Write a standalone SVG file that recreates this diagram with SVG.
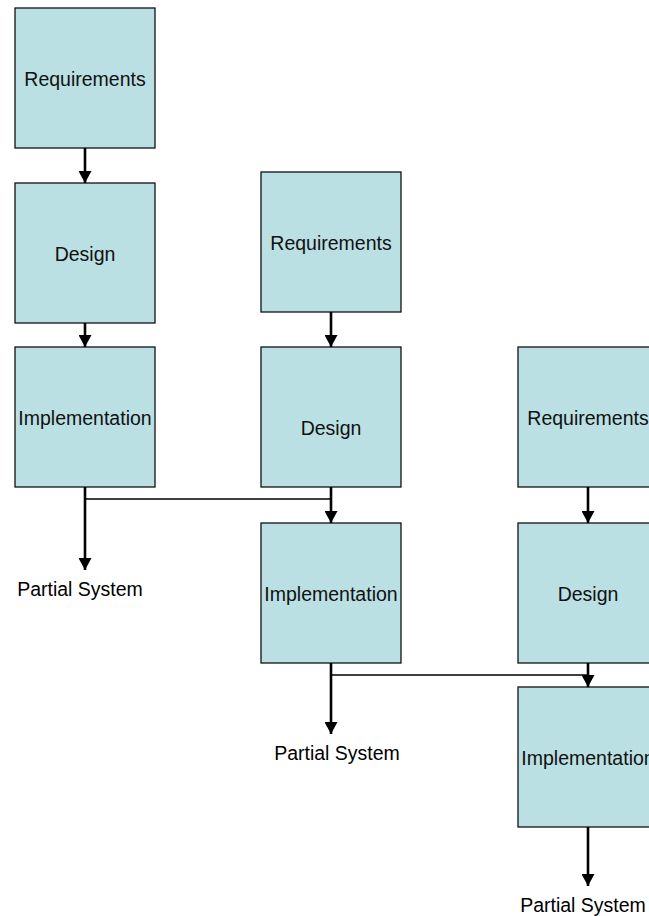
<svg xmlns="http://www.w3.org/2000/svg" width="649" height="916" viewBox="0 0 649 916">
<style>
.box{fill:#BAE0E3;stroke:#111;stroke-width:1.3}
.t{font-family:"Liberation Sans",Arial,sans-serif;font-size:19.5px;fill:#111;text-anchor:middle}
.l{font-family:"Liberation Sans",Arial,sans-serif;font-size:19.5px;fill:#000;text-anchor:middle}
.a{stroke:#000;stroke-width:2.6;fill:none}
.h{stroke:#000;stroke-width:1.5;fill:none}
</style>
<defs>
<marker id="ah" markerUnits="userSpaceOnUse" markerWidth="13" markerHeight="13" refX="12" refY="6.5" orient="auto">
<path d="M0,0 L12,6.5 L0,13 Z" fill="#000"/>
</marker>
</defs>
<rect width="649" height="916" fill="#fff"/>
<g id="req1"><rect class="box" x="15" y="8" width="140" height="140"/><text class="t" x="85" y="86">Requirements</text></g>
<g id="des1"><rect class="box" x="15" y="183" width="140" height="140"/><text class="t" x="85" y="261">Design</text></g>
<g id="imp1"><rect class="box" x="15" y="347" width="140" height="140"/><text class="t" x="85" y="425">Implementation</text></g>
<g id="req2"><rect class="box" x="261" y="172" width="140" height="140"/><text class="t" x="331" y="250">Requirements</text></g>
<g id="des2"><rect class="box" x="261" y="347" width="140" height="140"/><text class="t" x="331" y="435">Design</text></g>
<g id="imp2"><rect class="box" x="261" y="523" width="140" height="140"/><text class="t" x="331" y="601">Implementation</text></g>
<g id="req3"><rect class="box" x="518" y="347" width="140" height="140"/><text class="t" x="588" y="425">Requirements</text></g>
<g id="des3"><rect class="box" x="518" y="523" width="140" height="140"/><text class="t" x="588" y="601">Design</text></g>
<g id="imp3"><rect class="box" x="518" y="687" width="140" height="140"/><text class="t" x="588" y="765">Implementation</text></g>
<g id="ps1"><text class="l" x="80" y="596">Partial System</text></g>
<g id="ps2"><text class="l" x="337" y="760">Partial System</text></g>
<g id="ps3"><text class="l" x="583" y="912">Partial System</text></g>
<g id="connectors">
<line class="a" x1="85" y1="148" x2="85" y2="183" marker-end="url(#ah)"/>
<line class="a" x1="85" y1="323" x2="85" y2="347" marker-end="url(#ah)"/>
<line class="a" x1="85" y1="487" x2="85" y2="570" marker-end="url(#ah)"/>
<polyline class="h" points="85,499 331,499"/>
<line class="a" x1="331" y1="312" x2="331" y2="347" marker-end="url(#ah)"/>
<line class="a" x1="331" y1="487" x2="331" y2="523" marker-end="url(#ah)"/>
<line class="a" x1="331" y1="663" x2="331" y2="734" marker-end="url(#ah)"/>
<polyline class="h" points="331,675 588,675"/>
<line class="a" x1="588" y1="487" x2="588" y2="523" marker-end="url(#ah)"/>
<line class="a" x1="588" y1="663" x2="588" y2="687" marker-end="url(#ah)"/>
<line class="a" x1="588" y1="827" x2="588" y2="886" marker-end="url(#ah)"/>
</g>
</svg>
